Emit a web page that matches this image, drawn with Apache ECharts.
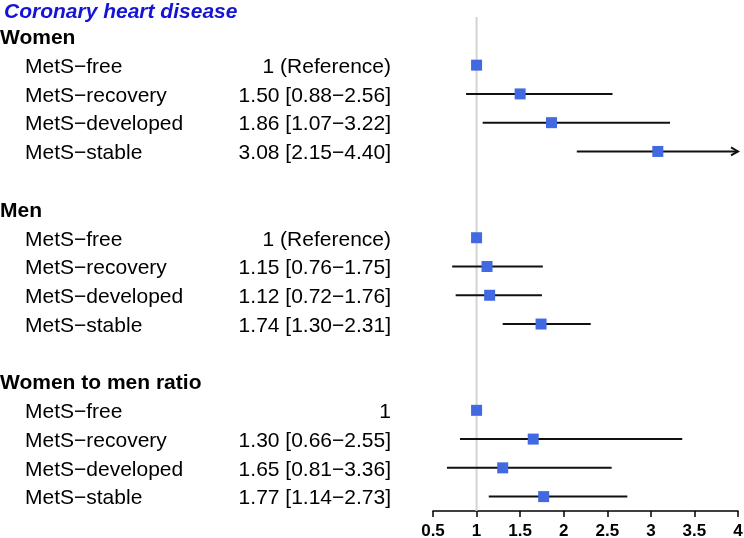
<!DOCTYPE html>
<html>
<head>
<meta charset="utf-8">
<title>Coronary heart disease</title>
<script src="https://cdn.jsdelivr.net/npm/echarts@6/dist/echarts.min.js"></script>
<style>
  html, body { margin: 0; padding: 0; background: #fff; }
  #main { width: 744px; height: 538px; }
</style>
</head>
<body>
<div id="main"></div>
<script>
// groups and rows
var groups = ['Women', 'Men', 'Women to men ratio'];
var subgroups = ['MetS\u2212free', 'MetS\u2212recovery', 'MetS\u2212developed', 'MetS\u2212stable'];

// printed estimates
var womenText = ['1 (Reference)', '1.50 [0.88\u22122.56]', '1.86 [1.07\u22123.22]', '3.08 [2.15\u22124.40]'];
var menText = ['1 (Reference)', '1.15 [0.76\u22121.75]', '1.12 [0.72\u22121.76]', '1.74 [1.30\u22122.31]'];
var ratioText = ['1', '1.30 [0.66\u22122.55]', '1.65 [0.81\u22123.36]', '1.77 [1.14\u22122.73]'];

// plotted values (as drawn)
var womenEst = [1, 1.50, 1.86, 3.08];
var womenLow = [null, 0.88, 1.07, 2.15];
var womenHigh = [null, 2.56, 3.22, 4.40];

var menEst = [1, 1.12, 1.15, 1.74];
var menLow = [null, 0.72, 0.76, 1.30];
var menHigh = [null, 1.76, 1.75, 2.31];

var ratioEst = [1, 1.65, 1.30, 1.77];
var ratioLow = [null, 0.81, 0.66, 1.14];
var ratioHigh = [null, 3.36, 2.55, 2.73];

var xTicks = [0.5, 1, 1.5, 2, 2.5, 3, 3.5, 4];
var refValue = 1;

var texts = [womenText, menText, ratioText];
var ests = [womenEst, menEst, ratioEst];
var lows = [womenLow, menLow, ratioLow];
var highs = [womenHigh, menHigh, ratioHigh];

// build rows
var rows = [];       // label strings for y axis
var points = [];     // [est, row]
var bars = [];       // [row, low, high]
groups.forEach(function (g, gi) {
  rows.push('{h|' + g + '}');
  subgroups.forEach(function (s, si) {
    var r = rows.length;
    rows.push('{n|' + s + '}{v|' + texts[gi][si] + '}');
    points.push([ests[gi][si], r]);
    if (lows[gi][si] != null) bars.push([r, lows[gi][si], highs[gi][si]]);
  });
  if (gi < groups.length - 1) rows.push('');
});
var cats = rows.map(function (r, i) { return 'r' + i; });

var xMin = xTicks[0], xMax = xTicks[xTicks.length - 1];
var font = "'Liberation Sans', Arial, Helvetica, sans-serif";

var myChart = echarts.init(document.getElementById('main'));
myChart.setOption({
  animation: false,
  title: {
    text: 'Coronary heart disease',
    left: -1,
    top: -3,
    textStyle: {
      color: '#1414d6',
      fontFamily: font,
      fontStyle: 'italic',
      fontWeight: 'bold',
      fontSize: 21
    }
  },
  grid: {
    left: 433,
    right: 6,
    top: 22,
    bottom: 27,
    containLabel: false,
    outerBoundsMode: 'none'
  },
  xAxis: {
    type: 'value',
    min: xMin,
    max: xMax,
    interval: 0.5,
    axisLine: { show: true, lineStyle: { color: '#000', width: 1.5 } },
    axisTick: { show: true, length: 6, lineStyle: { color: '#000', width: 1.5 } },
    splitLine: { show: false },
    axisLabel: {
      color: '#000',
      fontFamily: font,
      fontWeight: 'bold',
      fontSize: 17,
      margin: 12,
      showMinLabel: true,
      showMaxLabel: true
    }
  },
  yAxis: {
    type: 'category',
    inverse: true,
    data: cats,
    axisLine: { show: false },
    axisTick: { show: false },
    splitLine: { show: false },
    axisLabel: {
      interval: 0,
      margin: 42,
      formatter: function (v, i) { return rows[i]; },
      color: '#000',
      fontFamily: font,
      fontSize: 21,
      rich: {
        h: { width: 391, align: 'left', fontWeight: 'bold', fontSize: 21, fontFamily: font, color: '#000', padding: [4, 0, 0, 0] },
        n: { width: 200, align: 'left', padding: [4, 0, 0, 25], fontSize: 21, fontFamily: font, color: '#000' },
        v: { width: 166, align: 'right', padding: [4, 0, 0, 0], fontSize: 21, fontFamily: font, color: '#000' }
      }
    }
  },
  series: [{
    // reference line at 1
    type: 'custom',
    z: 1,
    silent: true,
    data: [[refValue]],
    encode: { x: 0 },
    renderItem: function (params, api) {
      var x = api.coord([api.value(0), 0])[0];
      var cs = params.coordSys;
      return {
        type: 'line',
        shape: { x1: x, y1: cs.y - 5, x2: x, y2: cs.y + cs.height },
        style: { stroke: '#d4d4d4', lineWidth: 2 }
      };
    }
  }, {
    // confidence intervals
    type: 'custom',
    z: 2,
    silent: true,
    data: bars,
    encode: { x: [1, 2], y: 0 },
    renderItem: function (params, api) {
      var r = api.value(0);
      var lo = api.value(1);
      var hi = api.value(2);
      var p1 = api.coord([lo, r]);
      var p2 = api.coord([Math.min(hi, xMax), r]);
      var style = { stroke: '#111', lineWidth: 2, fill: null };
      var children = [{
        type: 'line',
        shape: { x1: p1[0], y1: p1[1], x2: p2[0], y2: p2[1] },
        style: style
      }];
      if (hi > xMax) {
        children.push({
          type: 'polyline',
          shape: { points: [[p2[0] - 7, p2[1] - 4], [p2[0], p2[1]], [p2[0] - 7, p2[1] + 4]] },
          style: style
        });
      }
      return { type: 'group', children: children };
    }
  }, {
    // point estimates
    type: 'scatter',
    z: 3,
    symbol: 'rect',
    symbolSize: 11,
    itemStyle: { color: '#4169e1', opacity: 1 },
    data: points
  }]
});
</script>
</body>
</html>
